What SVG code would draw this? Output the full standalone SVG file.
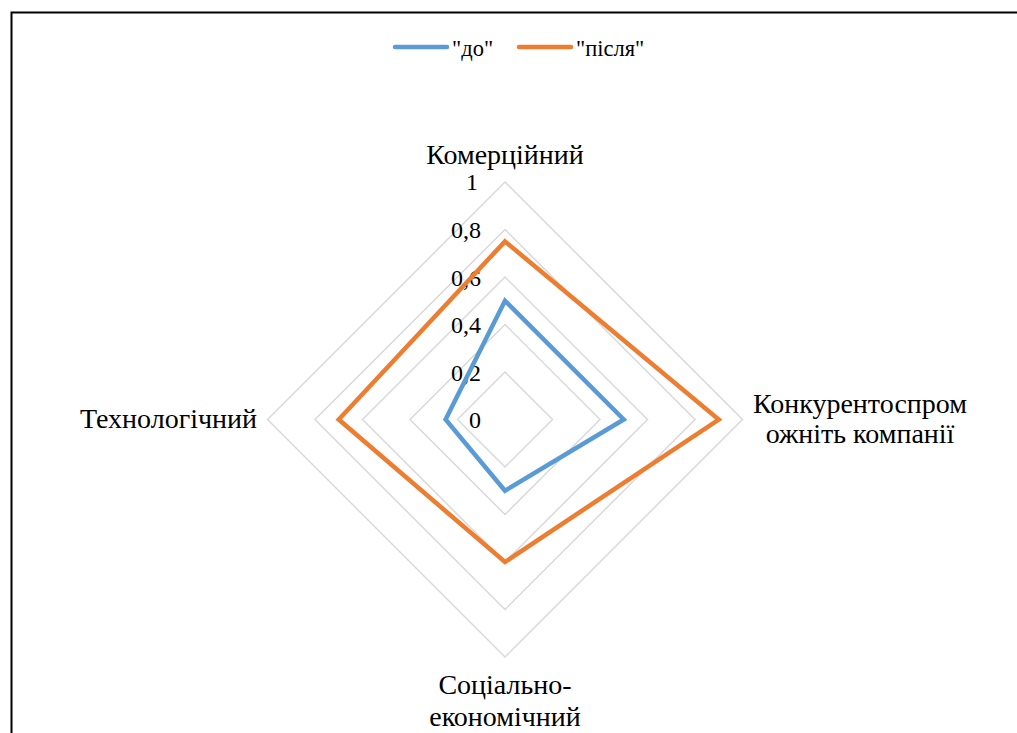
<svg xmlns="http://www.w3.org/2000/svg" width="1017" height="733" viewBox="0 0 1017 733">
<style>
.grid{fill:none;stroke:#d9d9d9;stroke-width:1.5}
text{font-family:'Liberation Serif','Times New Roman',serif;fill:#000}
.cat{font-size:28px}
.ax{font-size:24px;text-anchor:end}
.leg{font-size:22.5px}
</style>
<rect x="0" y="0" width="1017" height="733" fill="#fff"/>
<path d="M11.5,733 V12.5 H1017" fill="none" stroke="#000" stroke-width="2"/>
<g id="legend">
<line x1="395" y1="47" x2="447" y2="47" stroke="#5b9bd5" stroke-width="4.5" stroke-linecap="round"/>
<text class="leg" x="452" y="56">"до"</text>
<line x1="519" y1="47" x2="571" y2="47" stroke="#ed7d31" stroke-width="4.5" stroke-linecap="round"/>
<text class="leg" x="576" y="56">"після"</text>
</g>
<g id="grid">
<polygon class="grid" points="505,372 552.5,419.5 505,467 457.5,419.5"/>
<polygon class="grid" points="505,324.5 600,419.5 505,514.5 410,419.5"/>
<polygon class="grid" points="505,277 647.5,419.5 505,562 362.5,419.5"/>
<polygon class="grid" points="505,229.5 695,419.5 505,609.5 315,419.5"/>
<polygon class="grid" points="505,182 742.5,419.5 505,657 267.5,419.5"/>
</g>
<g id="axis-labels">
<text class="ax" x="481" y="428">0</text>
<text class="ax" x="481" y="381">0,2</text>
<text class="ax" x="481" y="333">0,4</text>
<text class="ax" x="481" y="286">0,6</text>
<text class="ax" x="481" y="238">0,8</text>
<text class="ax" x="478" y="190">1</text>
</g>
<g id="series-do">
<polygon points="505,300.75 623.75,419.5 505,490.75 445.6,419.5" fill="none" stroke="#5b9bd5" stroke-width="4.5" stroke-linejoin="miter"/>
</g>
<g id="series-pislia">
<polygon points="505,241.4 718.75,419.5 505,562 338.75,419.5" fill="none" stroke="#ed7d31" stroke-width="4.5" stroke-linejoin="miter"/>
</g>
<g id="cat-komerc"><text class="cat" x="505" y="164" text-anchor="middle">Комерційний</text></g>
<g id="cat-konk"><text class="cat" x="860" y="413" text-anchor="middle">Конкурентоспром</text><text class="cat" x="860" y="443" text-anchor="middle">ожніть компанії</text></g>
<g id="cat-soc"><text class="cat" x="505" y="694" text-anchor="middle">Соціально-</text><text class="cat" x="505" y="726" text-anchor="middle">економічний</text></g>
<g id="cat-tech"><text class="cat" x="257" y="428" text-anchor="end">Технологічний</text></g>
</svg>
